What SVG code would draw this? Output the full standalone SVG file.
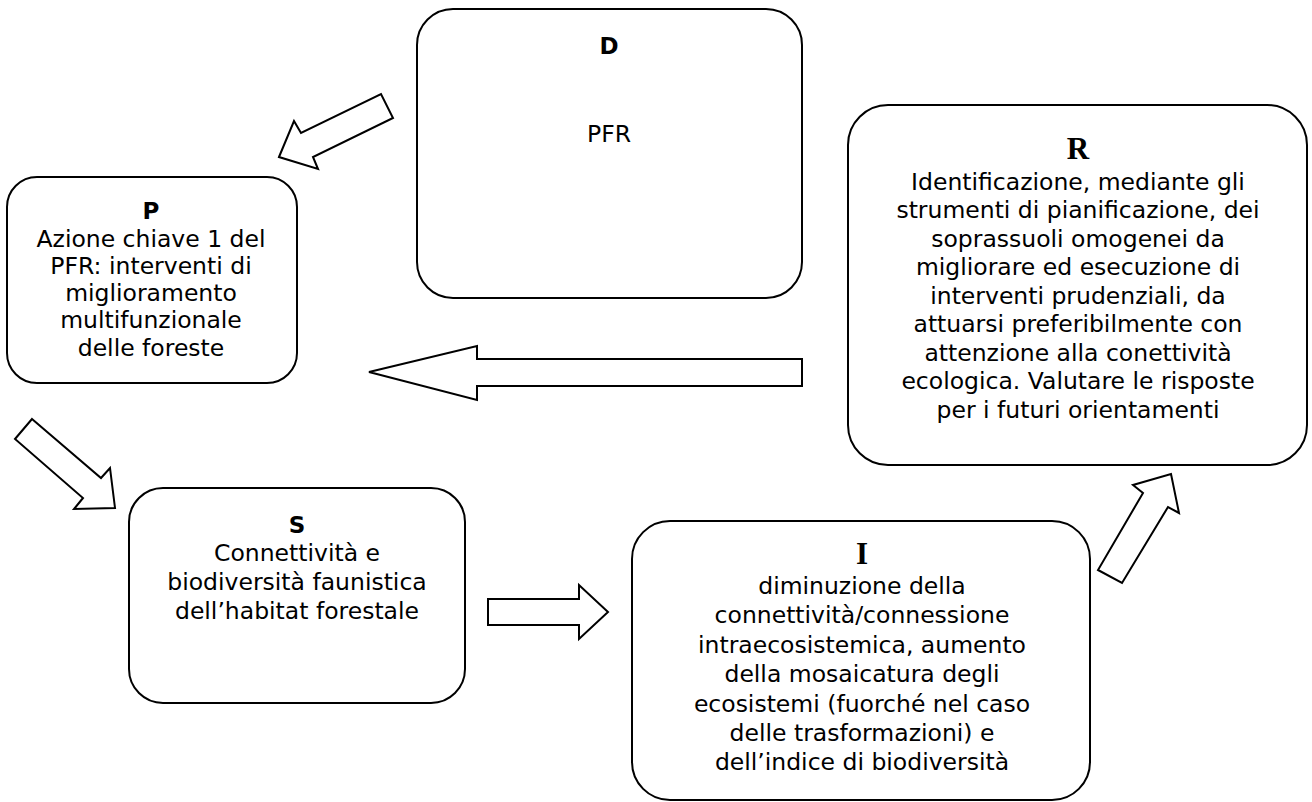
<svg xmlns="http://www.w3.org/2000/svg" width="1312" height="802" viewBox="0 0 1312 802">
  <style>
    .box { fill: #ffffff; stroke: #000000; stroke-width: 2; }
    .arrow { fill: #ffffff; stroke: #000000; stroke-width: 2; stroke-linejoin: miter; }
    .body { font-family: "DejaVu Sans", Verdana, sans-serif; font-size: 23.5px; fill: #000000; text-anchor: middle; }
    .head { font-family: "DejaVu Sans", Verdana, sans-serif; font-size: 23px; font-weight: bold; fill: #000000; text-anchor: middle; }
    .headserif { font-family: "Liberation Serif", "Times New Roman", serif; font-size: 31px; font-weight: bold; fill: #000000; text-anchor: middle; }
  </style>
  <rect width="1312" height="802" fill="#ffffff"/>

  <!-- block arrows between the DPSIR stages -->
  <g id="connectors">
    <polygon class="arrow" points="279,157 294,121 301,133 381,94 393,118 313,157 318,169"/>
    <polygon class="arrow" points="32,419 101,478 110,468 115,508 74,509 83,498 15,439"/>
    <polygon class="arrow" points="369,372 477,346 477,359 802,359 802,386 477,386 477,400"/>
    <polygon class="arrow" points="488,599 579,599 579,585 608,612 579,639 579,625 488,625"/>
    <polygon class="arrow" points="1171,474 1179,513 1168,507 1122,583 1098,570 1143,493 1133,485"/>
  </g>

  <!-- D: driving forces -->
  <g id="node-d">
    <rect class="box" x="417" y="9" width="385" height="289" rx="36" ry="36"/>
    <text class="head" x="609" y="54">D</text>
    <text class="body" x="609" y="142">PFR</text>
  </g>

  <!-- P: pressures -->
  <g id="node-p">
    <rect class="box" x="7" y="177" width="290" height="206" rx="30" ry="30"/>
    <text class="head" x="151" y="219">P</text>
    <text class="body" x="151" y="247">Azione chiave 1 del</text>
    <text class="body" x="151" y="274">PFR: interventi di</text>
    <text class="body" x="151" y="301">miglioramento</text>
    <text class="body" x="151" y="328">multifunzionale</text>
    <text class="body" x="151" y="356">delle foreste</text>
  </g>

  <!-- S: state -->
  <g id="node-s">
    <rect class="box" x="129" y="488" width="336" height="215" rx="34" ry="34"/>
    <text class="head" x="297" y="533">S</text>
    <text class="body" x="297" y="561">Connettività e</text>
    <text class="body" x="297" y="590">biodiversità faunistica</text>
    <text class="body" x="297" y="619">dell’habitat forestale</text>
  </g>

  <!-- I: impacts -->
  <g id="node-i">
    <rect class="box" x="632" y="521" width="458" height="279" rx="38" ry="38"/>
    <text class="headserif" x="862" y="564">I</text>
    <text class="body" x="862" y="594">diminuzione della</text>
    <text class="body" x="862" y="623">connettività/connessione</text>
    <text class="body" x="862" y="653">intraecosistemica, aumento</text>
    <text class="body" x="862" y="682">della mosaicatura degli</text>
    <text class="body" x="862" y="712">ecosistemi (fuorché nel caso</text>
    <text class="body" x="862" y="741">delle trasformazioni) e</text>
    <text class="body" x="862" y="770">dell’indice di biodiversità</text>
  </g>

  <!-- R: responses -->
  <g id="node-r">
    <rect class="box" x="848" y="105" width="459" height="360" rx="40" ry="40"/>
    <text class="headserif" x="1078" y="159">R</text>
    <text class="body" x="1078" y="190">Identificazione, mediante gli</text>
    <text class="body" x="1078" y="218">strumenti di pianificazione, dei</text>
    <text class="body" x="1078" y="247">soprassuoli omogenei da</text>
    <text class="body" x="1078" y="275">migliorare ed esecuzione di</text>
    <text class="body" x="1078" y="304">interventi prudenziali, da</text>
    <text class="body" x="1078" y="332">attuarsi preferibilmente con</text>
    <text class="body" x="1078" y="361">attenzione alla conettività</text>
    <text class="body" x="1078" y="389">ecologica. Valutare le risposte</text>
    <text class="body" x="1078" y="418">per i futuri orientamenti</text>
  </g>
</svg>
